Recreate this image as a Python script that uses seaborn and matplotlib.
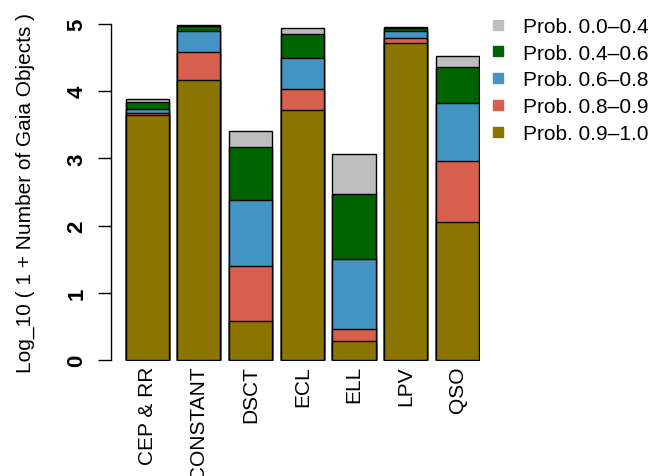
import matplotlib
matplotlib.use("Agg")
import matplotlib.pyplot as plt
from matplotlib.lines import Line2D
import seaborn as sns
import pandas as pd

categories = ["CEP & RR", "CONSTANT", "DSCT", "ECL", "ELL", "LPV", "QSO"]
# cumulative stacked tops (log10(1 + N))
top_prob_09_10 = [3.646, 4.167, 0.576, 3.716, 0.278, 4.71, 2.05]
top_prob_08_09 = [3.67, 4.59, 1.394, 4.03, 0.457, 4.79, 2.96]
top_prob_06_08 = [3.73, 4.89, 2.38, 4.50, 1.51, 4.895, 3.82]
top_prob_04_06 = [3.84, 4.972, 3.17, 4.85, 2.47, 4.945, 4.36]
top_prob_00_04 = [3.89, 4.985, 3.41, 4.94, 3.06, 4.955, 4.52]

labels = ["Prob. 0.0\u20130.4", "Prob. 0.4\u20130.6", "Prob. 0.6\u20130.8",
          "Prob. 0.8\u20130.9", "Prob. 0.9\u20131.0"]
colors = ["#BEBEBE", "#006400", "#4393C3", "#D6604D", "#8B7500"]
layers = [top_prob_00_04, top_prob_04_06, top_prob_06_08, top_prob_08_09, top_prob_09_10]

sns.set_style("white")
plt.rcParams["font.family"] = ["Liberation Sans", "DejaVu Sans"]
plt.rcParams["text.color"] = "black"
plt.rcParams["axes.labelcolor"] = "black"
plt.rcParams["xtick.color"] = "black"
plt.rcParams["ytick.color"] = "black"

W, H = 654, 477
fig = plt.figure(figsize=(W / 100, H / 100), dpi=100)
ax = fig.add_axes([111.5 / W, (H - 362) / H, (480 - 111.5) / W, (362 - 10) / H])

for vals, col in zip(layers, colors):
    df = pd.DataFrame({"cat": categories, "val": vals})
    sns.barplot(data=df, x="cat", y="val", order=categories, color=col,
                saturation=1, width=0.833, edgecolor="black", linewidth=1.0,
                ax=ax, errorbar=None)

ax.set_xlim(-0.693, 6.439)
ax.set_ylim(-0.015, 5.223)
ax.set_xlabel("")
ax.set_ylabel("")
for s in ["top", "right", "bottom"]:
    ax.spines[s].set_visible(False)
ax.spines["left"].set_bounds(0, 5)
ax.spines["left"].set_color("black")
ax.spines["left"].set_linewidth(1.0)

ax.set_yticks([0, 1, 2, 3, 4, 5])
ax.set_yticklabels(["0", "1", "2", "3", "4", "5"], rotation=90, va="center",
                   fontsize=16, fontweight="bold")
ax.tick_params(axis="y", length=9.4, width=1.0, color="black", pad=8,
               direction="out", left=True, labelcolor="black")
ax.tick_params(axis="x", length=0, pad=3, labelcolor="black")
ax.set_xticks(range(len(categories)))
ax.set_xticklabels(categories, rotation=90, fontsize=15, va="top", ha="center")

fig.text(25 / W, 1 - 193 / H, "Log_10 ( 1 + Number of Gaia Objects )",
         rotation=90, ha="center", va="center", fontsize=15, color="black")

handles = [Line2D([], [], marker="s", linestyle="none", markersize=6.5,
                  markerfacecolor=c, markeredgecolor=c) for c in colors]
leg = fig.legend(handles, labels, loc="upper left",
                 bbox_to_anchor=(489.7 / W, 1 - 18 / H), frameon=False, fontsize=15,
                 handlelength=0.8, handletextpad=0.8, labelspacing=0.37,
                 borderpad=0, borderaxespad=0)
for t in leg.get_texts():
    t.set_color("black")

fig.savefig("out.png", dpi=100)
